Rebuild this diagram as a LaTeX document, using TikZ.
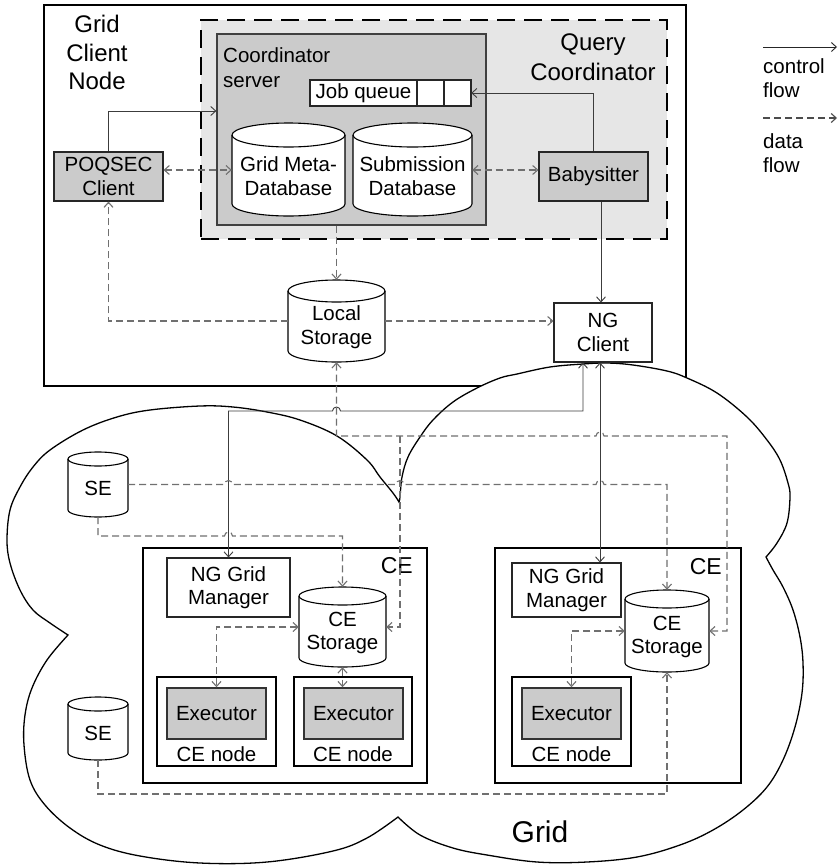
\documentclass[tikz,border=0pt]{standalone}
\usepackage{fontspec}
\setmainfont{Liberation Sans}
\usetikzlibrary{arrows.meta}
\definecolor{qcfill}{HTML}{E6E6E6}
\definecolor{gfill}{HTML}{CBCBCB}
\definecolor{ctrlc}{HTML}{3C3C3C}
\definecolor{datac}{HTML}{707070}
\tikzset{
  lbl/.style={inner sep=0pt, font=\fontsize{20.5}{23.5}\selectfont},
  lblL/.style={inner sep=0pt, font=\fontsize{24}{28}\selectfont},
  box/.style={draw=black!85, line width=1.1pt, fill=white, inner sep=0pt, align=center, font=\fontsize{20.5}{23.5}\selectfont},
  graybox/.style={box, fill=gfill},
  frame/.style={draw=black, line width=2pt, inner sep=0pt},
  cylst/.style={draw=black, line width=1.1pt, fill=white},
  ctrl/.style={draw=ctrlc, line width=0.9pt},
  data/.style={draw=datac, line width=1.1pt, dash pattern=on 7pt off 4pt},
}
% #1 name, #2 cx, #3 top, #4 bottom, #5 half width, #6 ry, #7 text y, #8 text
\newcommand{\cylnode}[8]{%
  \path[cylst] (#2-#5,#3+#6) -- (#2-#5,#4-#6)
     arc[start angle=180,end angle=360,x radius=#5pt,y radius=#6pt]
     -- (#2+#5,#3+#6)
     arc[start angle=0,end angle=180,x radius=#5pt,y radius=#6pt] -- cycle;
  \draw[cylst, fill=none] (#2-#5,#3+#6) arc[start angle=180,end angle=360,x radius=#5pt,y radius=#6pt];
  \node[inner sep=0pt, minimum width=2*#5pt, minimum height=(#4-#3)*1pt] (#1) at (#2,{(#3+#4)/2}) {};
  \node[lbl, align=center] (#1-t) at (#2,#7) {#8};
}
\begin{document}
\begin{tikzpicture}[x=1pt,y=-1pt,>={Straight Barb[length=5pt,width=9pt]}]
\useasboundingbox (0,0) rectangle (840,865);
\fill[white] (0,0) rectangle (840,865);

% ---------- Grid Client Node ----------
\node[frame, fill=white, minimum width=642pt, minimum height=381pt] (gcn) at (365,195.5) {};
\node[lblL, anchor=base] (gcn1) at (97,32) {Grid};
\node[lblL, anchor=base] (gcn2) at (97,61) {Client};
\node[lblL, anchor=base] (gcn3) at (97,89) {Node};

% Query coordinator
\node[draw=black, line width=2.5pt, dash pattern=on 18pt off 9pt, fill=qcfill,
      minimum width=466pt, minimum height=219pt, inner sep=0pt] (qc) at (434,129.5) {};
\node[lblL, anchor=base] (qc1) at (593,50) {Query};
\node[lblL, anchor=base] (qc2) at (593,80) {Coordinator};

% Coordinator server
\node[draw=black!75, line width=1.2pt, fill=gfill, minimum width=269pt, minimum height=191pt, inner sep=0pt] (cs) at (351.5,129.5) {};
\node[lbl, anchor=base west] (cs1) at (223,62) {Coordinator};
\node[lbl, anchor=base west] (cs2) at (223,87) {server};

% Job queue
\node[box, minimum width=107pt, minimum height=26pt] (jqlabel) at (363.5,93) {Job queue};
\node[box, minimum width=27pt, minimum height=26pt] (jqc1) at (430.5,93) {};
\node[box, minimum width=27pt, minimum height=26pt] (jqc2) at (457.5,93) {};
\node[inner sep=0pt, minimum width=161pt, minimum height=26pt] (jq) at (390.5,93) {};

% databases
\cylnode{gmd}{288.5}{123}{216}{56.5}{12}{176}{Grid Meta-\\Database}
\cylnode{subdb}{412.5}{123}{216}{59.5}{12}{176}{Submission\\Database}

% Babysitter / POQSEC
\node[graybox, minimum width=109pt, minimum height=49pt] (baby) at (593.5,176.5) {Babysitter};
\node[graybox, minimum width=109pt, minimum height=49pt] (poq) at (108.5,176.5) {POQSEC\\Client};

% Local storage
\cylnode{ls}{336.5}{280}{362}{48.5}{11}{327}{Local\\Storage}

% ---------- Grid cloud ----------
\path[draw=black, line width=1.3pt, fill=white]
  plot[smooth, tension=0.6] coordinates {(68,635) (50,623) (33,610) (20,590) (10,563) (7,540) (10,510) (20,487) (33,467) (50,450) (83,430) (117,417) (150,410) (200,406) (233,407) (267,412) (300,420) (337,436) (367,460) (380,477) (393,493) (399,502)}
  -- plot[smooth, tension=0.6] coordinates {(399,502) (400,497) (402,477) (408,457) (420,437) (433,420) (453,402) (477,388) (500,378) (517,374) (550,367) (583,364) (607,363) (633,365) (667,371) (687,378) (717,393) (747,417) (767,440) (780,460) (788,483) (790,497) (787,523) (777,543) (766,557)}
  -- plot[smooth, tension=0.6] coordinates {(766,557) (773,570) (783,587) (793,610) (800,637) (803,663) (802,693) (795,727) (783,760) (767,787) (743,810) (713,830) (680,845) (637,857) (587,862) (537,862) (487,855) (453,848) (420,835) (398,817)}
  -- plot[smooth, tension=0.6] coordinates {(398,817) (367,838) (333,851) (267,862) (200,863) (140,856) (100,845) (70,828) (45,805) (30,780) (24,745) (25,715) (32,688) (47,660) (68,635)}
  -- cycle;
\node[inner sep=0pt, font=\fontsize{30}{34}\selectfont, anchor=base] (gridlbl) at (540,842) {Grid};

% NG client
\node[box, minimum width=98pt, minimum height=59pt] (ngc) at (603,332.5) {NG\\Client};

% SEs
\cylnode{se1}{98}{452}{517}{30}{7}{488}{SE}
\cylnode{se2}{98}{697}{760}{30}{7}{733}{SE}

% ---------- left CE ----------
\node[frame, fill=white, minimum width=284pt, minimum height=235pt] (ceL) at (285,665.5) {};
\node[inner sep=0pt, font=\fontsize{23}{26}\selectfont, anchor=base east] (ceLlbl) at (413,573) {CE};
\node[box, minimum width=123pt, minimum height=59pt] (nggmL) at (228.5,587.5) {NG Grid\\Manager};
\cylnode{cesL}{342.5}{587}{667}{43.5}{9}{633}{CE\\Storage}
\node[frame, minimum width=119pt, minimum height=89pt] (cnL1) at (216.5,721.5) {};
\node[graybox, draw=black!80, line width=1.5pt, minimum width=99pt, minimum height=51pt] (exL1) at (216.5,713.5) {Executor};
\node[lbl] (cnL1t) at (216.5,754) {CE node};
\node[frame, minimum width=118pt, minimum height=89pt] (cnL2) at (353,721.5) {};
\node[graybox, draw=black!80, line width=1.5pt, minimum width=99pt, minimum height=51pt] (exL2) at (353.5,713.5) {Executor};
\node[lbl] (cnL2t) at (353,754) {CE node};

% ---------- right CE ----------
\node[frame, fill=white, minimum width=246pt, minimum height=235pt] (ceR) at (618,665.5) {};
\node[inner sep=0pt, font=\fontsize{23}{26}\selectfont, anchor=base east] (ceRlbl) at (722,574) {CE};
\node[box, minimum width=109pt, minimum height=54pt] (nggmR) at (566.5,590) {NG Grid\\Manager};
\cylnode{cesR}{667}{590}{672}{42}{9}{637}{CE\\Storage}
\node[frame, minimum width=119pt, minimum height=89pt] (cnR) at (571.5,721.5) {};
\node[graybox, draw=black!80, line width=1.5pt, minimum width=99pt, minimum height=51pt] (exR) at (571.5,713.5) {Executor};
\node[lbl] (cnRt) at (571.5,754) {CE node};

% ---------- helper coordinates ----------
\coordinate (h111) at (0,111);
\coordinate (h170) at (0,170);
\coordinate (h411) at (0,411);
\coordinate (h436) at (0,436);
\coordinate (h536) at (0,536);
\coordinate (h794) at (0,794);
\coordinate (v583) at (583,0);
\coordinate (v600) at (600,0);
\coordinate (v601) at (601,0);
\coordinate (v727) at (727,0);
\coordinate (v400) at (400,0);

% ---------- connectors ----------
\draw[ctrl,->] (poq.north) |- (cs.west |- h111);
\draw[data,<->] (poq.east |- h170) -- (gmd.west |- h170);
\draw[data,<->] (subdb.east |- h170) -- (baby.west |- h170);
\draw[ctrl,->] (baby.north) |- (jq.east);
\draw[ctrl,->] (baby.south -| v601) -- (ngc.north -| v601);
\draw[data,->] (ls.north |- cs.south) -- (ls.north);
\draw[data,->] (ls.west) -| (poq.south);
\draw[data,->] (ls.east) -- (ngc.west |- ls.east);

\draw[ctrl,<->] (ngc.south -| v583) -- (v583 |- h411) -- (340.5,411)
   arc[start angle=0,end angle=180,radius=4pt] -- (nggmL.north |- h411) -- (nggmL.north);
\draw[ctrl,<->] (ngc.south -| v600) -- (nggmR.north -| v600);

\draw[data,<->] (ls.south) -- (ls.south |- h436) -- (596,436)
   arc[start angle=180,end angle=0,radius=4pt] -- (v727 |- h436) -- (v727 |- cesR.east) -- (cesR.east);
\draw[data,->] (v400 |- h436) |- (cesL.east);

\draw[data,->] (se1.east) -- (224.5,484.5)
   arc[start angle=180,end angle=0,radius=4pt] -- (396,484.5)
   arc[start angle=180,end angle=0,radius=4pt] -- (596,484.5)
   arc[start angle=180,end angle=0,radius=4pt] -- (cesR.north |- se1.east) -- (cesR.north);
\draw[data,->] (se1.south) -- (se1.south |- h536) -- (224.5,536)
   arc[start angle=180,end angle=0,radius=4pt] -- (cesL.north |- h536) -- (cesL.north);
\draw[data,->] (se2.south) -- (se2.south |- h794) -| (cesR.south);

\draw[data,<->] (cesL.west) -| (exL1.north);
\draw[data,<->] (cesL.south) -- (cesL.south |- exL2.north);
\draw[data,<->] (cesR.west) -| (exR.north);

% ---------- legend ----------
\coordinate (lg1a) at (763,47);
\coordinate (lg1b) at (837,47);
\coordinate (lg2a) at (763,118);
\coordinate (lg2b) at (837,118);
\draw[ctrl,->,draw=black!85] (lg1a) -- (lg1b);
\draw[data,->,draw=black!70] (lg2a) -- (lg2b);
\node[lbl, anchor=base west] (lgt1) at (763,73) {control};
\node[lbl, anchor=base west] (lgt2) at (763,97) {flow};
\node[lbl, anchor=base west] (lgt3) at (763,148) {data};
\node[lbl, anchor=base west] (lgt4) at (763,172) {flow};
\end{tikzpicture}
\end{document}
